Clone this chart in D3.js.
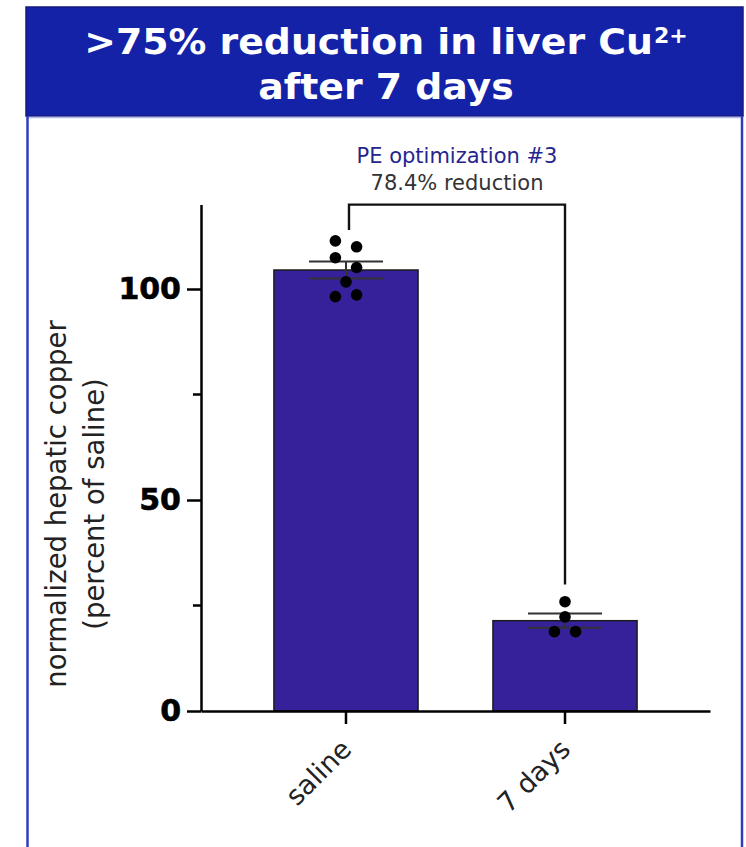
<!DOCTYPE html>
<html>
<head>
<meta charset="utf-8">
<script src="https://cdn.jsdelivr.net/npm/d3@7/dist/d3.min.js"></script>
<style>
  html, body { margin: 0; padding: 0; background: #ffffff; }
  svg { display: block; }
</style>
</head>
<body>
<script>
// ---- data ----
const categories = ["saline", "7 days"];
const meanValues = [104.5, 21.4];          // normalized hepatic copper, % of saline
const semValues = [2.0, 1.7];
const salinePoints = [111.4, 110.0, 107.4, 105.1, 101.7, 98.6, 98.2];
const day7Points = [25.9, 22.3, 18.8, 18.8];
// swarm column for each point (-1 left, 0 centre, 1 right)
const salineSide = [-1, 1, -1, 1, 0, 1, -1];
const day7Side = [0, 0, -1, 1];
const yTicksMajor = [0, 50, 100];
const yTicksMinor = [25, 75];
const titleLine1 = ">75% reduction in liver Cu";
const titleSup = "2+";
const titleLine2 = "after 7 days";
const yLabelLines = ["normalized hepatic copper", "(percent of saline)"];
const comparisonTitle = "PE optimization #3";
const comparisonNote = "78.4% reduction";
const bracketLevels = { top: 120, leftEnd: 114, rightEnd: 30 };

const W = 746, H = 847;
const svg = d3.select("body").append("svg").attr("width", W).attr("height", H);

// ---- header band and panel frame ----
svg.append("rect")
  .attr("x", 26).attr("y", 7).attr("width", 717).attr("height", 109)
  .attr("fill", "#1422a8").attr("stroke", "#16197e").attr("stroke-width", 1.5);
svg.append("line").attr("x1", 28).attr("x2", 741).attr("y1", 117.5).attr("y2", 117.5)
  .attr("stroke", "#b4b9ec").attr("stroke-width", 1.5);
[27.5, 742].forEach(x => {
  svg.append("line").attr("x1", x).attr("x2", x).attr("y1", 116).attr("y2", H)
    .attr("stroke", "#2f3cc0").attr("stroke-width", 2.5);
});

const title = svg.append("g").attr("transform", "translate(386,0) scale(1.05,1)")
  .attr("font-family", "'DejaVu Sans', Verdana, sans-serif")
  .attr("font-weight", "bold").attr("fill", "#ffffff").attr("text-anchor", "middle");
const t1 = title.append("text").attr("x", 0).attr("y", 54).attr("font-size", 36);
t1.append("tspan").text(titleLine1);
t1.append("tspan").attr("font-size", 21).attr("dy", -11).attr("dx", 1).text(titleSup);
title.append("text").attr("x", 0).attr("y", 99).attr("font-size", 36).text(titleLine2);

// ---- scales ----
const x = d3.scaleBand().domain(categories).range([201, 710])
  .paddingInner(0.342).paddingOuter(0.333);
const y = d3.scaleLinear().domain([0, 120]).range([711, 204.6]);

const font = "'DejaVu Sans', Verdana, sans-serif";

// ---- bars ----
svg.append("g").selectAll("rect").data(categories).join("rect")
  .attr("x", d => x(d)).attr("width", x.bandwidth())
  .attr("y", (d, i) => y(meanValues[i]))
  .attr("height", (d, i) => y(0) - y(meanValues[i]))
  .attr("fill", "#37219a").attr("stroke", "#1b1b1b").attr("stroke-width", 1.5);

// ---- error bars (mean ± SEM) ----
const capHalf = 37;
const eb = svg.append("g").attr("stroke", "#333").attr("stroke-width", 2);
categories.forEach((c, i) => {
  const cx = x(c) + x.bandwidth() / 2;
  const hi = y(meanValues[i] + semValues[i]), lo = y(meanValues[i] - semValues[i]);
  eb.append("line").attr("x1", cx).attr("x2", cx).attr("y1", hi).attr("y2", lo);
  eb.append("line").attr("x1", cx - capHalf).attr("x2", cx + capHalf).attr("y1", hi).attr("y2", hi);
  eb.append("line").attr("x1", cx - capHalf).attr("x2", cx + capHalf).attr("y1", lo).attr("y2", lo);
});

// ---- individual animals ----
const dodge = 10.6;
const pts = [];
salinePoints.forEach((v, i) => pts.push({ c: "saline", v, s: salineSide[i] }));
day7Points.forEach((v, i) => pts.push({ c: "7 days", v, s: day7Side[i] }));
svg.append("g").selectAll("circle").data(pts).join("circle")
  .attr("cx", d => x(d.c) + x.bandwidth() / 2 + d.s * dodge)
  .attr("cy", d => y(d.v))
  .attr("r", 5.8).attr("fill", "#000");

// ---- axes ----
const yAxis = svg.append("g").attr("transform", "translate(201,0)")
  .call(d3.axisLeft(y).tickValues(yTicksMajor).tickSize(14).tickSizeOuter(0).tickPadding(6));
yAxis.append("g").selectAll("line").data(yTicksMinor).join("line")
  .attr("x1", -8).attr("x2", 0).attr("y1", d => y(d)).attr("y2", d => y(d))
  .attr("stroke", "#000");
yAxis.selectAll("path, line").attr("stroke", "#000").attr("stroke-width", 2.5);
yAxis.selectAll("text").attr("font-family", font).attr("font-weight", "bold")
  .attr("font-size", 30).attr("fill", "#000")
  .attr("stroke", "#000").attr("stroke-width", 0.6);

const xAxis = svg.append("g").attr("transform", "translate(0,711)")
  .call(d3.axisBottom(x).tickSize(13).tickSizeOuter(0));
xAxis.selectAll("path, line").attr("stroke", "#000").attr("stroke-width", 2.5);
xAxis.selectAll("text")
  .attr("font-family", font).attr("font-size", 27).attr("fill", "#222")
  .attr("text-anchor", "end").attr("dy", null).attr("y", 0)
  .attr("transform", "translate(7,40) rotate(-45)");

// ---- y axis title ----
const yl = svg.append("g").attr("font-family", font).attr("font-size", 27.5)
  .attr("fill", "#222").attr("text-anchor", "middle");
yLabelLines.forEach((line, i) => {
  yl.append("text").attr("transform", `translate(${66 + i * 38},504) rotate(-90)`).text(line);
});

// ---- comparison bracket ----
const bx1 = x(categories[0]) + x.bandwidth() / 2 + 3;
const bx2 = x(categories[1]) + x.bandwidth() / 2;
svg.append("path")
  .attr("d", `M${bx1},${y(bracketLevels.leftEnd)}V${y(bracketLevels.top)}H${bx2}V${y(bracketLevels.rightEnd)}`)
  .attr("fill", "none").attr("stroke", "#111").attr("stroke-width", 2.4);
const mid = (bx1 + bx2) / 2;
svg.append("text").attr("x", mid).attr("y", y(bracketLevels.top) - 42)
  .attr("text-anchor", "middle").attr("font-family", font).attr("font-size", 21)
  .attr("fill", "#25258c").text(comparisonTitle);
svg.append("text").attr("x", mid).attr("y", y(bracketLevels.top) - 15)
  .attr("text-anchor", "middle").attr("font-family", font).attr("font-size", 21)
  .attr("fill", "#333").text(comparisonNote);
</script>
</body>
</html>
